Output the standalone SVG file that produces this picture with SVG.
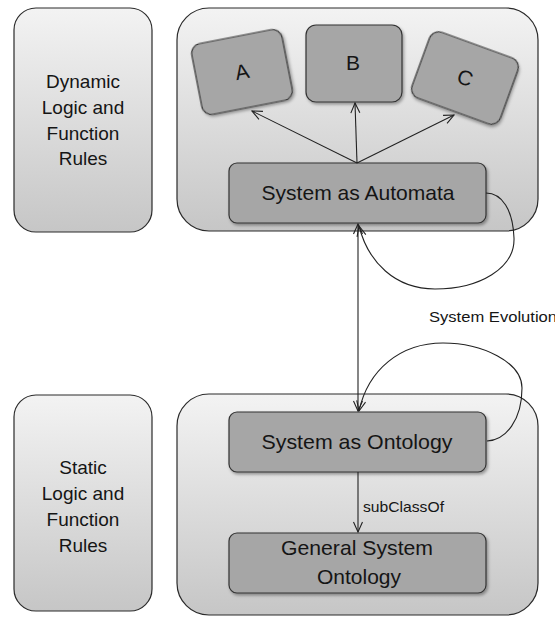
<svg xmlns="http://www.w3.org/2000/svg" width="555" height="617" viewBox="0 0 555 617">
  <defs>
    <linearGradient id="panelFill" x1="0" y1="0" x2="0" y2="1">
      <stop offset="0" stop-color="#f3f3f3"/>
      <stop offset="1" stop-color="#c6c6c6"/>
    </linearGradient>
    <filter id="shadow" x="-10%" y="-10%" width="130%" height="140%">
      <feDropShadow dx="1.5" dy="2" stdDeviation="1.5" flood-color="#000" flood-opacity="0.35"/>
    </filter>
    <marker id="arrow" viewBox="0 0 12 12" refX="11" refY="6" markerWidth="12" markerHeight="12" markerUnits="userSpaceOnUse" orient="auto-start-reverse">
      <path d="M1,1.5 L11,6 L1,10.5" fill="none" stroke="#222" stroke-width="1.1"/>
    </marker>
  </defs>
  <style>
    .panel { fill: url(#panelFill); stroke: #2a2a2a; stroke-width: 1.2; }
    .node { fill: #a6a6a6; stroke: #333; stroke-width: 1.2; filter: url(#shadow); }
    .label { font-family: "Liberation Sans", Arial, sans-serif; fill: #151515; text-anchor: middle; }
    .side { font-size: 19px; }
    .main { font-size: 21px; }
    .small { font-family: "Liberation Sans", Arial, sans-serif; font-size: 15px; fill: #151515; }
    .edge { fill: none; stroke: #222; stroke-width: 1.1; }
  </style>

  <!-- left-hand rule panels -->
  <g id="dynamic-rules">
    <rect class="panel" x="14" y="8" width="138" height="224" rx="22"/>
    <text class="label side" x="83" y="88">Dynamic</text>
    <text class="label side" x="83" y="114">Logic and</text>
    <text class="label side" x="83" y="140">Function</text>
    <text class="label side" x="83" y="165">Rules</text>
  </g>
  <g id="static-rules">
    <rect class="panel" x="14" y="395" width="138" height="216" rx="22"/>
    <text class="label side" x="83" y="474">Static</text>
    <text class="label side" x="83" y="500">Logic and</text>
    <text class="label side" x="83" y="526">Function</text>
    <text class="label side" x="83" y="552">Rules</text>
  </g>

  <!-- containers -->
  <g id="automata-container">
    <rect class="panel" x="177" y="8" width="361" height="223" rx="32"/>
  </g>
  <g id="ontology-container">
    <rect class="panel" x="177" y="394" width="361" height="221" rx="32"/>
  </g>

  <!-- states -->
  <g id="state-a" transform="translate(242,72) rotate(-11)">
    <rect class="node" x="-46" y="-36" width="92" height="72" rx="10"/>
    <text class="label main" x="0" y="7">A</text>
  </g>
  <g id="state-b">
    <rect class="node" x="306" y="25" width="96" height="77" rx="10"/>
    <text class="label main" x="353" y="70">B</text>
  </g>
  <g id="state-c" transform="translate(465,78) rotate(20)">
    <rect class="node" x="-47" y="-35" width="94" height="70" rx="10"/>
    <text class="label main" x="0" y="7">C</text>
  </g>

  <g id="system-automata">
    <rect class="node" x="229" y="163" width="257" height="60" rx="8"/>
    <text class="label main" x="358" y="200" textLength="193" lengthAdjust="spacingAndGlyphs">System as Automata</text>
  </g>
  <g id="system-ontology">
    <rect class="node" x="229" y="412" width="257" height="60" rx="8"/>
    <text class="label main" x="357" y="449" textLength="191" lengthAdjust="spacingAndGlyphs">System as Ontology</text>
  </g>
  <g id="general-ontology">
    <rect class="node" x="229" y="533" width="257" height="60" rx="8"/>
    <text class="label main" x="357" y="555" textLength="152" lengthAdjust="spacingAndGlyphs">General System</text>
    <text class="label main" x="359" y="584">Ontology</text>
  </g>

  <!-- connectors -->
  <g id="connectors">
    <line class="edge" x1="357" y1="163" x2="252" y2="111" marker-end="url(#arrow)"/>
    <line class="edge" x1="357" y1="163" x2="355" y2="103" marker-end="url(#arrow)"/>
    <line class="edge" x1="357" y1="163" x2="454" y2="115" marker-end="url(#arrow)"/>
    <line class="edge" x1="358" y1="224" x2="358" y2="411" marker-start="url(#arrow)" marker-end="url(#arrow)"/>
    <path class="edge" d="M486,193 C502,193 513,210 514,238 C515,268 480,289 435,289 C395,289 368,262 359,226" marker-end="url(#arrow)"/>
    <path class="edge" d="M487,441 C506,440 522,420 522,388 C522,362 482,343 443,343 C400,343 368,370 359,411" marker-end="url(#arrow)"/>
    <line class="edge" x1="358" y1="472" x2="358" y2="532" marker-end="url(#arrow)"/>
    <text class="small" x="429" y="322" textLength="128" lengthAdjust="spacingAndGlyphs">System Evolution</text>
    <text class="small" x="363" y="512" textLength="81" lengthAdjust="spacingAndGlyphs">subClassOf</text>
  </g>
</svg>
